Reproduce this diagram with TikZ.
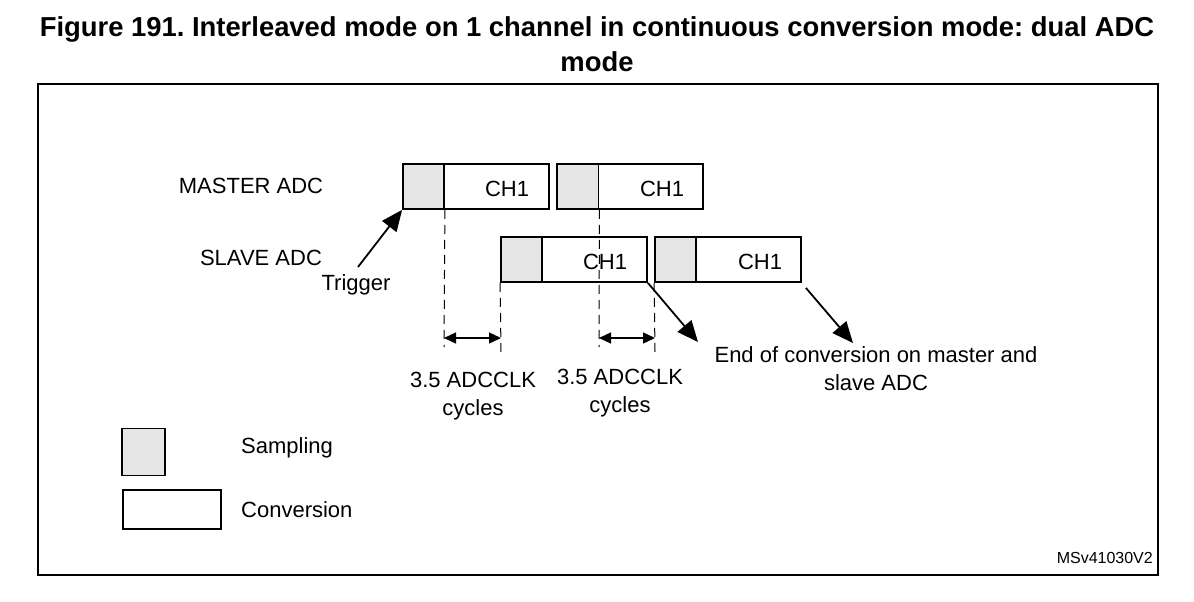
\documentclass[tikz,border=0pt]{standalone}
\usepackage{fontspec}
\setmainfont{Liberation Sans}
\usetikzlibrary{arrows.meta}
\definecolor{sgray}{HTML}{E6E6E6}
\frenchspacing
\begin{document}
\begin{tikzpicture}[x=1pt,y=-1pt,
  convbox/.style={draw, line width=1.8pt, fill=white, inner sep=0pt, minimum height=45pt, minimum width=146pt},
  sampbox/.style={draw, line width=1.8pt, fill=sgray, inner sep=0pt, minimum height=45pt, minimum width=41pt},
  lbl/.style={font=\fontsize{22}{26}\selectfont, inner sep=0pt},
  vdash/.style={line width=1pt, dash pattern=on 9pt off 6pt},
  bigarrow/.style={line width=1.8pt, -{Triangle[length=21pt,width=18pt]}},
  dimarrow/.style={line width=1.4pt, {Triangle[length=12pt,width=11pt]}-{Triangle[length=12pt,width=11pt]}}
]
\useasboundingbox (0,0) rectangle (1194,602);
% title
\node[font=\fontsize{27.4}{32}\selectfont\bfseries, inner sep=0pt] (title1) at (597,29) {Figure 191. Interleaved mode on 1 channel in continuous conversion mode: dual ADC};
\node[font=\fontsize{27.4}{32}\selectfont\bfseries, inner sep=0pt] (title2) at (597,62) {mode};
% frame
\node[draw, line width=1.6pt, minimum width=1120pt, minimum height=491pt, inner sep=0pt] (frame) at (598,329.5) {};
% labels
\node[lbl] (master) at (251,186) {MASTER ADC};
\node[lbl] (slave) at (261,258) {SLAVE ADC};
% master boxes
\node[convbox] (m1) at (476,186.5) {};
\node[sampbox] (m1s) at (423.5,186.5) {};
\node[lbl] (m1t) at (507,189) {CH1};
\node[convbox] (m2) at (630,186.5) {};
\node[sampbox] (m2s) at (578,186.5) {};
\node[lbl] (m2t) at (662,189) {CH1};
% slave boxes
\node[convbox] (s1) at (574,259.5) {};
\node[sampbox] (s1s) at (521.5,259.5) {};
\node[convbox] (s2) at (728,259.5) {};
\node[sampbox] (s2s) at (675.5,259.5) {};
% dashed lines
\coordinate (d1) at (444,347);
\coordinate (d2) at (501,352);
\coordinate (d3) at (599,347);
\coordinate (d4) at (655,352);
\draw[vdash] (m1s.south east) -- (d1);
\draw[vdash] (s1s.south west) -- (d2);
\draw[vdash] (m2s.south east) -- (d3);
\draw[vdash] (s2s.south west) -- (d4);
\node[lbl] (s1t) at (605,262) {CH1};
\node[lbl] (s2t) at (760,262) {CH1};
% dimension arrows
\draw[dimarrow] (444,338) coordinate (a1) -- (501,338) coordinate (a2);
\draw[dimarrow] (599,338) coordinate (a3) -- (655,338) coordinate (a4);
\node[lbl, align=center] (c1) at (473,396) {3.5 ADCCLK\\[2pt]cycles};
\node[lbl, align=center] (c2) at (620,393) {3.5 ADCCLK\\[2pt]cycles};
% trigger
\node[lbl] (trig) at (356,285) {Trigger};
\coordinate (t0) at (358,267);
\draw[bigarrow] (t0) -- (m1s.south west);
% end of conversion
\coordinate (e1) at (698,342);
\coordinate (e2) at (853,343);
\draw[bigarrow] (s1.south east) -- (e1);
\draw[bigarrow] (s2.south east) ++(4,5) -- (e2);
\node[lbl, align=center] (eoc) at (876,369) {End of conversion on master and\\[2pt]slave ADC};
% legend
\node[sampbox, minimum width=43pt, minimum height=47pt] (ls) at (143.5,452) {};
\node[lbl, anchor=west] (lst) at (241,448) {Sampling};
\node[convbox, minimum width=98pt, minimum height=39pt] (lc) at (172,509.5) {};
\node[lbl, anchor=west] (lct) at (241,510) {Conversion};
\node[font=\fontsize{16}{19}\selectfont, anchor=east, inner sep=0pt] (ms) at (1153,558) {MSv41030V2};
\end{tikzpicture}
\end{document}
